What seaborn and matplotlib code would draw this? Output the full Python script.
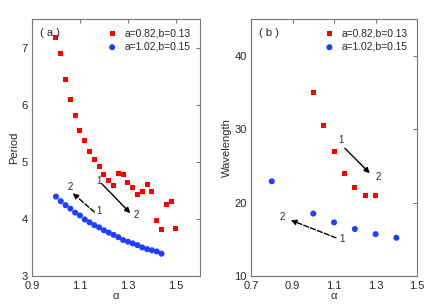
import matplotlib
matplotlib.use("Agg")
import matplotlib.pyplot as plt
import numpy as np
import pandas as pd
import seaborn as sns

# panel (a): period vs alpha
alpha_a_red = [1.00, 1.02, 1.04, 1.06, 1.08, 1.10, 1.12, 1.14, 1.16, 1.18,
               1.20, 1.22, 1.24, 1.26, 1.28, 1.30, 1.32, 1.34, 1.36, 1.38,
               1.40, 1.42, 1.44, 1.46, 1.48, 1.50]
period_red = [7.18, 6.89, 6.45, 6.10, 5.81, 5.55, 5.37, 5.18, 5.04, 4.91,
              4.78, 4.67, 4.59, 4.80, 4.77, 4.63, 4.55, 4.43, 4.48, 4.61,
              4.48, 3.97, 3.81, 4.25, 4.31, 3.83]
alpha_a_blue = [1.00, 1.02, 1.04, 1.06, 1.08, 1.10, 1.12, 1.14, 1.16, 1.18,
                1.20, 1.22, 1.24, 1.26, 1.28, 1.30, 1.32, 1.34, 1.36, 1.38,
                1.40, 1.42, 1.44]
period_blue = [4.39, 4.31, 4.24, 4.18, 4.11, 4.06, 3.99, 3.94, 3.89, 3.85,
               3.80, 3.76, 3.72, 3.68, 3.63, 3.60, 3.57, 3.54, 3.50, 3.47,
               3.45, 3.43, 3.39]

# panel (b): wavelength vs alpha
alpha_b_red = [1.00, 1.05, 1.10, 1.15, 1.20, 1.25, 1.30]
wave_red = [35.0, 30.5, 27.0, 24.0, 22.0, 21.0, 21.0]
alpha_b_blue = [0.80, 1.00, 1.10, 1.20, 1.30, 1.40]
wave_blue = [22.9, 18.5, 17.3, 16.4, 15.7, 15.2]

labels = ["a=0.82,b=0.13", "a=1.02,b=0.15"]
RED = "#ff0000"
BLUE = "#1f3fff"

sns.set_style("white")
plt.rcParams["font.family"] = ["Liberation Sans", "DejaVu Sans"]

fig = plt.figure(figsize=(4.36, 3.08), dpi=100)
ax1 = fig.add_axes([0.0734, 0.104, 0.385, 0.834])
ax2 = fig.add_axes([0.5757, 0.104, 0.381, 0.834])


def draw(ax, xr, yr, xb, yb):
    df_r = pd.DataFrame({"alpha": xr, "val": yr})
    df_b = pd.DataFrame({"alpha": xb, "val": yb})
    sns.scatterplot(data=df_r, x="alpha", y="val", ax=ax, marker="s", s=13,
                    color=RED, edgecolor="none", label=labels[0])
    sns.scatterplot(data=df_b, x="alpha", y="val", ax=ax, marker="o", s=19,
                    color=BLUE, edgecolor="none", label=labels[1])
    ax.legend(loc="upper right", frameon=False, fontsize=7.4, handletextpad=0.2,
              borderaxespad=0.5, labelspacing=0.35, markerscale=1.0)
    ax.tick_params(direction="in", length=3, top=True, right=True,
                   labelsize=8, color="#777777")
    ax.tick_params(axis="x", pad=3.5)
    ax.tick_params(axis="y", pad=3)
    for s in ax.spines.values():
        s.set_color("#777777")
        s.set_linewidth(0.8)
    ax.set_xlabel("α", fontsize=8, labelpad=0)


def arrow(ax, tail, tip, dashed=False):
    ax.annotate("", xy=tip, xytext=tail,
                arrowprops=dict(arrowstyle="-|>", color="black", lw=1.0,
                                linestyle="--" if dashed else "-",
                                mutation_scale=8, shrinkA=0, shrinkB=0))


draw(ax1, alpha_a_red, period_red, alpha_a_blue, period_blue)
ax1.set_xlim(0.9, 1.6)
ax1.set_ylim(3, 7.5)
ax1.set_xticks([0.9, 1.1, 1.3, 1.5])
ax1.set_yticks([3, 4, 5, 6, 7])
ax1.set_ylabel("Period", fontsize=8, labelpad=2)
ax1.text(0.05, 0.965, "( a )", transform=ax1.transAxes, fontsize=8, va="top")
arrow(ax1, (1.19, 4.62), (1.31, 4.10))
ax1.text(1.18, 4.67, "1", fontsize=7, ha="center", va="center")
ax1.text(1.335, 4.06, "2", fontsize=7, ha="center", va="center")
arrow(ax1, (1.16, 4.12), (1.07, 4.45), dashed=True)
ax1.text(1.18, 4.13, "1", fontsize=7, ha="center", va="center")
ax1.text(1.058, 4.55, "2", fontsize=7, ha="center", va="center")

draw(ax2, alpha_b_red, wave_red, alpha_b_blue, wave_blue)
ax2.set_xlim(0.7, 1.5)
ax2.set_ylim(10, 45)
ax2.set_xticks([0.7, 0.9, 1.1, 1.3, 1.5])
ax2.set_yticks([10, 20, 30, 40])
ax2.set_ylabel("Wavelength", fontsize=8, labelpad=2)
ax2.text(0.05, 0.965, "( b )", transform=ax2.transAxes, fontsize=8, va="top")
arrow(ax2, (1.152, 27.4), (1.272, 24.0))
ax2.text(1.135, 28.5, "1", fontsize=7, ha="center", va="center")
ax2.text(1.315, 23.5, "2", fontsize=7, ha="center", va="center")
arrow(ax2, (1.109, 15.2), (0.892, 17.6), dashed=True)
ax2.text(1.14, 15.1, "1", fontsize=7, ha="center", va="center")
ax2.text(0.85, 18.1, "2", fontsize=7, ha="center", va="center")

fig.savefig("out.png", dpi=100)
